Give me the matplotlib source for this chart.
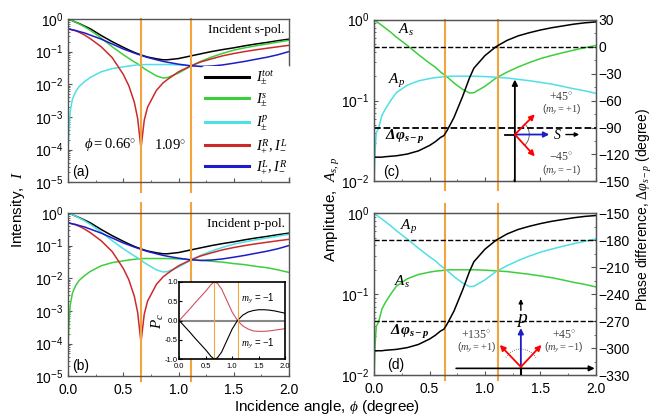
import numpy as np
import matplotlib.pyplot as plt
from matplotlib.ticker import AutoMinorLocator, MultipleLocator, LogLocator, NullFormatter
from matplotlib.patches import Arc

plt.rcParams['font.family'] = ['Liberation Sans', 'DejaVu Sans']
plt.rcParams['mathtext.fontset'] = 'custom'
plt.rcParams['mathtext.rm'] = 'Liberation Serif'
plt.rcParams['mathtext.it'] = 'Liberation Serif:italic'
plt.rcParams['mathtext.bf'] = 'Liberation Serif:bold:italic'

# incidence angle grid (degree)
phi = [0, 0.01, 0.02, 0.04, 0.07, 0.1, 0.15, 0.2, 0.3, 0.4, 0.5, 0.55, 0.6, 0.63, 0.66,
       0.69, 0.72, 0.8, 0.86, 0.9, 1.0, 1.1, 1.2, 1.3, 1.4, 1.5, 1.6, 1.7, 1.8, 1.9, 2.0]

# intensities, panels (a)/(b)
I_tot = [1.0, 0.97, 0.94, 0.88, 0.79, 0.72, 0.6, 0.5, 0.31, 0.2, 0.135, 0.112, 0.094, 0.086, 0.079,
         0.073, 0.068, 0.06, 0.056, 0.056, 0.061, 0.072, 0.085, 0.1, 0.115, 0.13, 0.15, 0.17, 0.19, 0.215, 0.24]
I_co = [1.0, 0.97, 0.94, 0.88, 0.79, 0.7, 0.57, 0.45, 0.26, 0.14, 0.08, 0.062, 0.048, 0.042, 0.036,
        0.03, 0.026, 0.018, 0.0155, 0.016, 0.022, 0.034, 0.05, 0.068, 0.088, 0.11, 0.13, 0.15, 0.17, 0.195, 0.22]
I_cross = [8e-5, 5e-4, 1.5e-3, 3.5e-3, 6e-3, 8.5e-3, 0.012, 0.016, 0.024, 0.03, 0.034, 0.036, 0.038, 0.039, 0.0395,
           0.04, 0.04, 0.04, 0.04, 0.04, 0.039, 0.037, 0.035, 0.033, 0.031, 0.028, 0.026, 0.023, 0.021, 0.018, 0.015]
I_R = [0.5, 0.49, 0.48, 0.46, 0.43, 0.39, 0.32, 0.25, 0.14, 0.065, 0.02, 0.009, 0.0028, 0.0009, 0.00011,
       0.0008, 0.002, 0.0065, 0.011, 0.014, 0.024, 0.035, 0.048, 0.06, 0.074, 0.087, 0.1, 0.113, 0.126, 0.14, 0.155]
I_L = [0.5, 0.49, 0.48, 0.46, 0.44, 0.41, 0.37, 0.32, 0.24, 0.17, 0.12, 0.104, 0.09, 0.083, 0.077,
       0.071, 0.066, 0.056, 0.05, 0.047, 0.041, 0.037, 0.035, 0.036, 0.039, 0.044, 0.05, 0.058, 0.067, 0.08, 0.1]

# amplitudes and phase difference, panels (c)/(d)
A_co = [1.0, 0.975, 0.95, 0.91, 0.85, 0.79, 0.7, 0.61, 0.48, 0.37, 0.29, 0.26, 0.225, 0.21, 0.195,
        0.18, 0.165, 0.137, 0.124, 0.125, 0.15, 0.19, 0.225, 0.26, 0.295, 0.33, 0.36, 0.39, 0.42, 0.45, 0.48]
A_cross = [0.01, 0.025, 0.04, 0.045, 0.065, 0.078, 0.1, 0.125, 0.155, 0.175, 0.187, 0.192, 0.195, 0.197, 0.199,
           0.2, 0.2, 0.2, 0.2, 0.2, 0.198, 0.194, 0.19, 0.183, 0.176, 0.168, 0.16, 0.15, 0.14, 0.132, 0.123]
dphi_s = [-123, -123, -123, -123, -123, -122.5, -122, -121.5, -119.5, -116, -110, -106, -101, -99, -93,
          -86, -79, -55, -35, -24, -10, 0, 7, 12, 15.5, 18.5, 21, 23, 25, 26.5, 27.5]
dphi_p = [-303, -303, -303, -303, -303, -302.5, -302, -301.5, -299.5, -296, -290, -286, -281, -279, -273,
          -266, -259, -235, -215, -204, -190, -180, -173, -168, -164.5, -161.5, -159, -157, -155, -153.5, -152.5]

# inset: circular polarization degree
phi_in = [0, 0.1, 0.2, 0.3, 0.4, 0.5, 0.6, 0.66, 0.72, 0.8, 0.9, 1.0, 1.1, 1.2, 1.3, 1.4, 1.5, 1.6, 1.7, 1.8, 1.9, 2.0]
Pc_red = [0, 0.15, 0.3, 0.46, 0.61, 0.76, 0.93, 1.0, 0.97, 0.82, 0.52, 0.22, 0.0, -0.14, -0.22, -0.27, -0.28, -0.28, -0.27, -0.25, -0.23, -0.21]
Pc_blk = [0, -0.15, -0.3, -0.46, -0.61, -0.76, -0.93, -1.0, -0.97, -0.82, -0.52, -0.22, 0.0, 0.14, 0.22, 0.26, 0.28, 0.28, 0.27, 0.25, 0.22, 0.19]

phi_ab = [0.66, 1.11]   # marked angles, left panels
phi_cd = [0.64, 1.12]   # marked angles, right panels

GREEN = '#3ccf3c'
CYAN = '#4ee0e6'
RED = '#cc2a2a'
BLUE = '#1c1cc8'
ORANGE = '#f4a43c'
SPINE = '#555555'

fig = plt.figure(figsize=(6.54, 4.19), dpi=100)
ax_a = fig.add_axes([0.104, 0.565, 0.338, 0.39])
ax_b = fig.add_axes([0.104, 0.102, 0.338, 0.39])
ax_c = fig.add_axes([0.572, 0.567, 0.339, 0.386])
ax_d = fig.add_axes([0.572, 0.105, 0.339, 0.386])


def style(ax, ylo, yhi):
    ax.set_yscale('log')
    ax.set_xlim(0, 2)
    ax.set_ylim(ylo, yhi)
    ax.yaxis.set_major_locator(LogLocator(base=10, numticks=12))
    ax.yaxis.set_minor_locator(LogLocator(base=10, subs=np.arange(2, 10), numticks=12))
    ax.yaxis.set_minor_formatter(NullFormatter())
    ax.xaxis.set_major_locator(MultipleLocator(0.5))
    ax.xaxis.set_minor_locator(AutoMinorLocator(2))
    ax.tick_params(which='both', direction='in', labelsize=10, color=SPINE)
    ax.tick_params(which='major', length=3)
    ax.tick_params(which='minor', length=1.5)
    ax.tick_params(axis='x', pad=5)
    for s in ax.spines.values():
        s.set_color(SPINE)
        s.set_linewidth(1.0)


for ax in (ax_a, ax_b):
    style(ax, 1e-5, 1)
for ax in (ax_c, ax_d):
    style(ax, 1e-2, 1)
for ax in (ax_a, ax_c):
    ax.tick_params(labelbottom=False)

lw = 1.1
# (a) incident s-pol.
ax_a.plot(phi, I_tot, color='k', lw=lw, label=r'$I_{\pm}^{tot}$')
ax_a.plot(phi, I_co, color=GREEN, lw=lw, label=r'$I_{\pm}^{s}$')
ax_a.plot(phi, I_cross, color=CYAN, lw=lw, label=r'$I_{\pm}^{p}$')
ax_a.plot(phi, I_R, color=RED, lw=lw, label=r'$I_{+}^{R}, I_{-}^{L}$')
ax_a.plot(phi, I_L, color=BLUE, lw=lw, label=r'$I_{+}^{L}, I_{-}^{R}$')
leg = ax_a.legend(loc='lower left', bbox_to_anchor=(0.575, -0.02), fontsize=10.5, handlelength=3.0,
                  labelspacing=0.3, handletextpad=0.5, borderpad=0.2, framealpha=1, edgecolor='none')
for h in leg.get_lines():
    h.set_linewidth(2.2)
ax_a.text(0.98, 0.93, 'Incident s-pol.', transform=ax_a.transAxes, ha='right', va='center',
          fontsize=9.5, family='Liberation Serif')
ax_a.text(0.38, 1.4e-4, r'$\phi = 0.66^{\circ}$', ha='center', va='center', fontsize=10.5)
ax_a.text(0.92, 1.4e-4, r'$1.09^{\circ}$', ha='center', va='center', fontsize=10.5)
ax_a.text(0.02, 0.06, '(a)', transform=ax_a.transAxes, va='center', fontsize=10)

# (b) incident p-pol.
ax_b.plot(phi, I_tot, color='k', lw=lw)
ax_b.plot(phi, I_cross, color=GREEN, lw=lw)
ax_b.plot(phi, I_co, color=CYAN, lw=lw)
ax_b.plot(phi, I_R, color=RED, lw=lw)
ax_b.plot(phi, I_L, color=BLUE, lw=lw)
ax_b.text(0.98, 0.93, 'Incident p-pol.', transform=ax_b.transAxes, ha='right', va='center',
          fontsize=9.5, family='Liberation Serif')
ax_b.text(0.02, 0.06, '(b)', transform=ax_b.transAxes, va='center', fontsize=10)

for x in phi_ab:
    ax_a.axvline(x, ymin=-0.06, ymax=1, color=ORANGE, lw=1.5, clip_on=False)
    ax_b.axvline(x, ymin=-0.03, ymax=1.06, color=ORANGE, lw=1.5, clip_on=False)

# inset in (b)
ins = fig.add_axes([0.274, 0.143, 0.162, 0.184])
ins.plot(phi_in, Pc_red, color='#d05060', lw=0.8)
ins.plot(phi_in, Pc_blk, color='k', lw=0.8)
ins.axhline(0, color='#888888', lw=1.5, zorder=0)
for x in phi_ab:
    ins.axvline(x, color=ORANGE, lw=0.8)
ins.set_xlim(0, 2)
ins.set_ylim(-1, 1)
ins.set_xticks([0, 0.5, 1, 1.5, 2])
ins.set_xticklabels(['0.0', '0.5', '1.0', '1.5', '2.0'])
ins.set_yticks([-1, -0.5, 0, 0.5, 1])
ins.set_yticklabels(['-1.0', '-0.5', '0.0', '0.5', '1.0'])
ins.tick_params(direction='in', labelsize=5.5, length=2, pad=1)
ins.tick_params(axis='x', pad=2.5)
for s in ins.spines.values():
    s.set_linewidth(1.2)
ins.text(-0.2, 0.5, r'$P_c$', transform=ins.transAxes, rotation=90, fontsize=11,
         ha='center', va='center')
ins.text(1.48, 0.55, r'$m_y$ = $-$1', fontsize=7, ha='center', va='center')
ins.text(1.48, -0.6, r'$m_y$ = $-$1', fontsize=7, ha='center', va='center')

# (c) s-pol amplitudes and phase
ax_c.plot(phi, A_co, color=GREEN, lw=lw)
ax_c.plot(phi, A_cross, color=CYAN, lw=lw)
tc = ax_c.twinx()
tc.set_ylim(-150, 30)
tc.plot(phi, dphi_s, color='k', lw=lw)
tc.plot([0, 2], [0, 0], color='k', ls='--', lw=1.0)
tc.plot([0, 2], [-90, -90], color='k', ls='--', lw=1.3)
ax_c.text(0.29, 0.75, r'$A_s$', fontsize=11, ha='center', va='center')
ax_c.text(0.2, 0.175, r'$A_p$', fontsize=11, ha='center', va='center')
ax_c.text(0.28, 0.035, r'$\mathbf{\Delta\varphi_{s-p}}$', fontsize=11, ha='center', va='center')
ax_c.text(0.04, 0.06, '(c)', transform=ax_c.transAxes, va='center', fontsize=10)

# (d) p-pol amplitudes and phase
ax_d.plot(phi, A_cross, color=GREEN, lw=lw)
ax_d.plot(phi, A_co, color=CYAN, lw=lw)
td = ax_d.twinx()
td.set_ylim(-330, -150)
td.plot(phi, dphi_p, color='k', lw=lw)
td.plot([0, 2], [-180, -180], color='k', ls='--', lw=1.0)
td.plot([0, 2], [-270, -270], color='k', ls='--', lw=1.0)
ax_d.text(0.31, 0.68, r'$A_p$', fontsize=11, ha='center', va='center')
ax_d.text(0.25, 0.14, r'$A_s$', fontsize=11, ha='center', va='center')
ax_d.text(0.32, 0.034, r'$\mathbf{\Delta\varphi_{s-p}}$', fontsize=11, ha='center', va='center')
ax_d.text(0.06, 0.06, '(d)', transform=ax_d.transAxes, va='center', fontsize=10)

for t in (tc, td):
    t.yaxis.set_major_locator(MultipleLocator(30))
    t.yaxis.set_minor_locator(AutoMinorLocator(2))
    t.tick_params(which='both', direction='in', labelsize=10, color=SPINE, pad=2)
    t.tick_params(which='minor', length=1.5)
    for s in t.spines.values():
        s.set_color(SPINE)

for x in phi_cd:
    ax_c.axvline(x, ymin=-0.05, ymax=1, color=ORANGE, lw=1.5, clip_on=False)
    ax_d.axvline(x, ymin=-0.03, ymax=1.06, color=ORANGE, lw=1.5, clip_on=False)


def arrow(ax, p0, p1, color, lw=1.3, ms=8):
    ax.annotate('', xy=p1, xytext=p0, xycoords='axes fraction', textcoords='axes fraction',
                arrowprops=dict(arrowstyle='-|>', color=color, lw=lw, mutation_scale=ms,
                                shrinkA=0, shrinkB=0))


# polarization sketch in (c)
cx, cy = 0.635, 0.29
arrow(tc, (cx, 0.0), (cx, 0.63), 'k')
tc.plot([0.59, cx], [cy, cy], transform=tc.transAxes, color='k', lw=1.3)
arrow(tc, (cx, cy), (0.79, cy), BLUE)
arrow(tc, (cx, cy), (0.725, 0.415), 'red')
arrow(tc, (cx, cy), (0.725, 0.155), 'red')
tc.add_patch(Arc((cx, cy), 0.13, 0.18, theta1=-55, theta2=55, transform=tc.transAxes, lw=0.6, color='#555555'))
tc.text(0.825, cy, r'$S$', transform=tc.transAxes, fontsize=10, ha='center', va='center')
arrow(tc, (0.865, cy), (0.925, cy), 'k', lw=1.0, ms=6)
tc.text(0.845, 0.52, r'$+45^{\circ}$', transform=tc.transAxes, fontsize=8.5, ha='center', va='center', color='#444444')
tc.text(0.845, 0.44, r'($m_y = +1$)', transform=tc.transAxes, fontsize=7.5, ha='center', va='center', color='#444444')
tc.text(0.845, 0.15, r'$-45^{\circ}$', transform=tc.transAxes, fontsize=8.5, ha='center', va='center', color='#444444')
tc.text(0.845, 0.065, r'($m_y = -1$)', transform=tc.transAxes, fontsize=7.5, ha='center', va='center', color='#444444')

# polarization sketch in (d)
px, py = 0.662, 0.05
arrow(td, (0.37, 0.041), (0.995, 0.041), 'k', lw=1.2)
td.plot([px, px], [0, py], transform=td.transAxes, color='k', lw=1.5)
arrow(td, (px, py), (px, 0.29), BLUE)
arrow(td, (px, py), (0.567, 0.186), 'red')
arrow(td, (px, py), (0.755, 0.186), 'red')
td.add_patch(Arc((px, py), 0.16, 0.22, theta1=40, theta2=140, transform=td.transAxes, lw=0.6,
                 color='#555555', ls=':'))
td.text(px + 0.005, 0.34, r'$p$', transform=td.transAxes, fontsize=14, ha='center', va='center')
arrow(td, (px, 0.40), (px, 0.47), 'k', lw=1.0, ms=6)
td.text(0.46, 0.245, r'$+135^{\circ}$', transform=td.transAxes, fontsize=8.5, ha='center', va='center', color='#444444')
td.text(0.46, 0.165, r'($m_y = +1$)', transform=td.transAxes, fontsize=7.5, ha='center', va='center', color='#444444')
td.text(0.855, 0.245, r'$+45^{\circ}$', transform=td.transAxes, fontsize=8.5, ha='center', va='center', color='#444444')
td.text(0.855, 0.165, r'($m_y = -1$)', transform=td.transAxes, fontsize=7.5, ha='center', va='center', color='#444444')

# shared labels
fig.text(0.028, 0.5, r'Intensity,  $I$', rotation=90, ha='center', va='center', fontsize=11)
fig.text(0.508, 0.5, r'Amplitude,  $A_{s,p}$', rotation=90, ha='center', va='center', fontsize=11)
fig.text(0.986, 0.5, r'Phase difference, $\Delta\varphi_{s-p}$ (degree)', rotation=90,
         ha='center', va='center', fontsize=10)
fig.text(0.5, 0.028, r'Incidence angle, $\phi$ (degree)', ha='center', va='center', fontsize=11)

fig.savefig('out.png', dpi=100)
